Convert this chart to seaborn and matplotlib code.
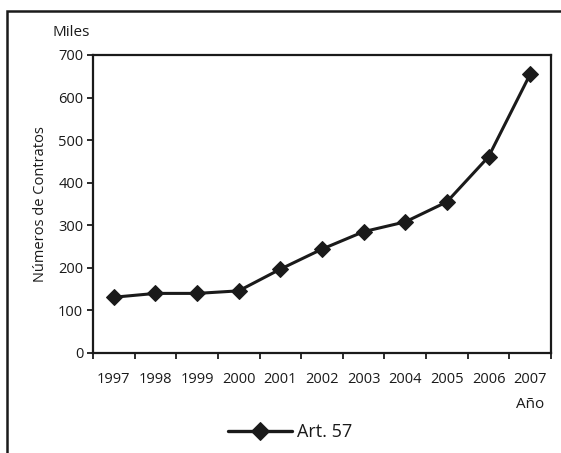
import matplotlib
matplotlib.use("Agg")
import matplotlib.pyplot as plt
import seaborn as sns
import pandas as pd
from matplotlib.patches import Rectangle

years = ["1997", "1998", "1999", "2000", "2001", "2002", "2003", "2004", "2005", "2006", "2007"]
values = [131, 140, 140, 146, 197, 244, 285, 308, 355, 461, 655]
series_name = "Art. 57"
y_ticks = [0, 100, 200, 300, 400, 500, 600, 700]

sns.set_theme(style="white")
plt.rcParams["font.family"] = ["Open Sans", "DejaVu Sans"]

df = pd.DataFrame({"Año": years, "valor": values, "serie": series_name})

fig = plt.figure(figsize=(5.61, 4.53), dpi=100)
ax = fig.add_axes([93 / 561, 1 - 353 / 453, (551 - 93) / 561, (353 - 55) / 453])

sns.lineplot(data=df, x="Año", y="valor", hue="serie", palette=["#1a1a1a"],
             marker="D", markersize=8.5, linewidth=2.2, markeredgecolor="#1a1a1a",
             ax=ax, legend=True, sort=False)

ax.set_xlim(-0.5, len(years) - 0.5)
ax.set_ylim(0, 700)
ax.set_yticks(y_ticks)
ax.set_yticklabels([str(t) for t in y_ticks], fontsize=10.5, color="#1a1a1a")

# Major ticks at category boundaries (no labels), minor ticks at centers with labels
ax.set_xticks([i - 0.5 for i in range(len(years) + 1)])
ax.set_xticklabels([])
ax.set_xticks(list(range(len(years))), minor=True)
ax.set_xticklabels(years, minor=True, fontsize=10.5, color="#1a1a1a")
ax.tick_params(axis="x", which="major", direction="out", length=4, width=1.3, color="#1a1a1a", bottom=True)
ax.tick_params(axis="x", which="minor", length=0, pad=14, bottom=True)
ax.tick_params(axis="y", direction="out", length=4, width=1.3, color="#1a1a1a", left=True, pad=3)

for s in ax.spines.values():
    s.set_visible(True)
    s.set_color("#1a1a1a")
    s.set_linewidth(1.6)

ax.set_xlabel("")
ax.set_ylabel("Números de Contratos", fontsize=10.5, color="#1a1a1a", labelpad=7)

fig.text(53 / 561, 1 - 33 / 453, "Miles", fontsize=11, color="#1a1a1a", ha="left", va="center")
fig.text(544 / 561, 1 - 405 / 453, "Año", fontsize=11, color="#1a1a1a", ha="right", va="center")

leg = ax.legend(loc="center", bbox_to_anchor=(290 / 561, 1 - 432 / 453), bbox_transform=fig.transFigure,
                frameon=False, fontsize=13, handlelength=3.55, handletextpad=0.3)
for t in leg.get_texts():
    t.set_color("#1a1a1a")
for h in leg.legend_handles:
    h.set_markersize(9)
    h.set_linewidth(2.4)

fig.patches.append(Rectangle((7 / 561, -0.1), 1.2, 1 - 11 / 453 + 0.1, transform=fig.transFigure,
                             fill=False, edgecolor="#1a1a1a", linewidth=1.8, zorder=10))

fig.savefig("out.png", dpi=100)
